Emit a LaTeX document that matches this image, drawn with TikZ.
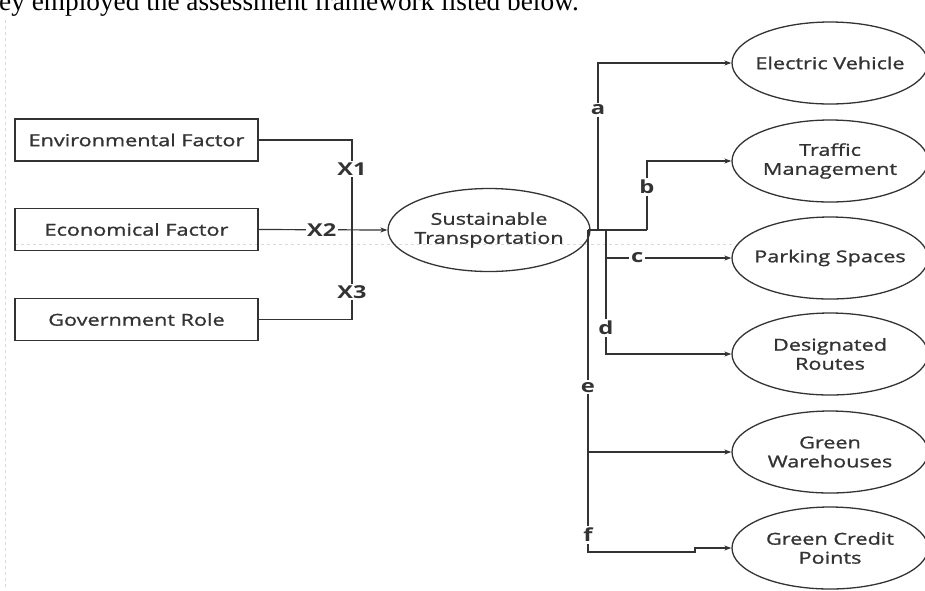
\documentclass[tikz,border=0pt]{standalone}
\usepackage{fontspec}
\setmainfont{Open Sans}[FakeStretch=1.32,UprightFeatures={FakeBold=1.2}]
\newfontfamily\introfont{Liberation Serif}
\usetikzlibrary{shapes.geometric,arrows.meta}
\definecolor{ink}{HTML}{333333}
\tikzset{
	factor/.style={draw=ink,line width=1.2pt,minimum width=243pt,minimum height=42pt,inner sep=0pt,font=\fontsize{16.4}{19}\selectfont,text=ink},
	oval/.style={ellipse,draw=ink,line width=1.3pt,minimum width=196pt,minimum height=82pt,inner xsep=-20pt,inner ysep=0pt,align=center,font=\fontsize{16.4}{19}\selectfont,text=ink},
	link/.style={draw=ink,line width=1.2pt},
	arrow/.style={link,-{Stealth[length=7pt,width=5pt]}},
	xlabel/.style={fill=white,inner sep=1.5pt,font=\bfseries\fontsize{17.8}{18}\selectfont,text=ink},
	pathlabel/.style={fill=white,inner sep=2pt,font=\bfseries\fontsize{18}{18}\selectfont,text=ink},
	guide/.style={draw=black!15,dashed,line width=0.6pt}
}
\begin{document}
\begin{tikzpicture}[x=1pt,y=-1pt]
			\clip (0,0) rectangle (925,590);
			\draw[guide] (5,20) -- (5,590);
			\draw[guide] (15,244) -- (732,244);
			\node[anchor=base west,inner sep=0pt,font=\introfont\fontsize{27.3}{28}\selectfont] (intro) at (-1,10) {ey employed the assessment framework listed below.};
			\node[factor] (env) at (136.5,140) {Environmental Factor};
			\node[factor] (eco) at (136.5,229.5) {Economical Factor};
			\node[factor] (gov) at (136.5,319.5) {Government Role};
			\node[oval,minimum width=202pt,minimum height=83pt] (st) at (489,230) {Sustainable\\Transportation};
			\foreach \nm/\yy/\txt in {ev/63/{Electric Vehicle},tm/161/{Traffic\\Management},ps/258/{Parking Spaces},dr/354/{Designated\\Routes},gw/452/{Green\\Warehouses},gc/548/{Green Credit\\Points}}
				{ \node[oval] (\nm) at (830,\yy) {\txt}; }
			\coordinate (bus) at (352,230);
			\draw[link] (env.east) -| node[xlabel,pos=.66] {X1} (bus);
			\draw[link] (gov.east) -| node[xlabel,pos=.655] {X3} (bus);
			\draw[arrow] (eco.east) -- node[xlabel,pos=.49] {X2} (st.west);
			\coordinate (hub) at (st.east);
			\coordinate (ja) at (598,230);
			\coordinate (jb) at (647,230);
			\coordinate (jd) at (606,230);
			\coordinate (je) at (588,230);
			\draw[link] (je) -- (jb);
			\draw[arrow] (ja) |- node[pathlabel,pos=.36] {a} (ev.west);
			\draw[arrow] (jb) |- node[pathlabel,pos=.31] {b} (tm.west);
			\draw[arrow] (jd |- ps.west) -- node[pathlabel,pos=.25] {c} (ps.west);
			\draw[arrow] (jd) |- node[pathlabel,pos=.395] {d} (dr.west);
			\draw[arrow] (je) |- node[pathlabel,pos=.354] {e} (gw.west);
			\draw[arrow] (je |- gw.west) -- node[pathlabel,pos=.83] {f} ++(0,100) -- (695,552) |- (gc.west);
		\end{tikzpicture}
\end{document}
